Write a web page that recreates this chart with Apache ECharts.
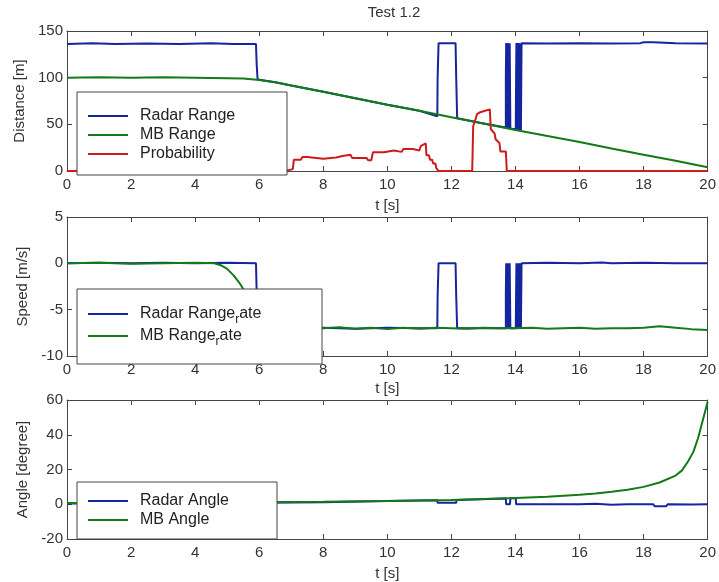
<!DOCTYPE html>
<html lang="en">
  <head>
    <meta charset="UTF-8" />
    <title>Test 1.2</title>
    <script src="https://cdn.jsdelivr.net/npm/echarts@6.0.0/dist/echarts.min.js"></script>
  </head>
  <body style="margin:0;background:#fff">
    <div id="main" style="width: 719px; height: 582px"></div>
    <script type="text/javascript">
      // [t, value] pairs
      let radarRange = [
        [0, 136], [0.8, 137], [1.5, 136], [2.5, 136.5], [3.5, 136], [4.5, 137], [5.2, 136], [5.9, 136],
        [5.92, 115], [5.95, 98], [6, 97.5], [6.5, 95], [7, 91.5], [8, 85], [9, 78], [10, 71], [11, 64.5],
        [11.56, 58.5], [11.57, 100], [11.6, 137], [12.13, 137], [12.15, 100], [12.18, 56.5],
        [13, 51], [13.7, 46.5], [13.7, 100], [13.71, 137], [13.74, 46], [13.76, 137], [13.8, 46], [13.82, 137], [13.84, 45.5],
        [14.01, 44.5], [14.02, 100], [14.03, 137], [14.06, 44.3], [14.09, 137], [14.12, 44], [14.15, 137], [14.17, 44], [14.19, 137],
        [15, 136.5], [16, 137], [17, 136.5], [17.9, 137], [18, 138], [18.3, 138], [18.35, 136.5], [19, 137], [20, 136.5]
      ];
      let mbRange = [
        [0, 100], [1, 100.5], [2, 100], [3, 100.5], [4, 100], [5, 99.5], [5.5, 99], [6, 97.5], [6.5, 95],
        [7, 91.5], [8, 85], [9, 78], [10, 71], [11, 64.5], [12, 57.5], [13, 51], [14, 44], [15, 37.5],
        [16, 31], [17, 24], [18, 17.5], [19, 11], [20, 4]
      ];
      let probability = [
        [0, 0], [6.8, 0], [6.85, 2], [7.05, 2], [7.08, 12], [7.3, 12], [7.35, 15], [7.5, 15], [7.55, 13],
        [8.0, 13], [8.05, 14.5], [8.4, 14.5], [8.45, 16], [8.6, 16], [8.65, 17.5], [8.85, 17.5], [8.9, 14],
        [9.35, 14], [9.4, 11.5], [9.5, 11.5], [9.55, 20], [9.9, 20], [9.95, 22], [10.2, 22], [10.25, 20.5],
        [10.45, 20.5], [10.5, 23.5], [10.8, 23.5], [10.85, 22], [11.0, 22], [11.05, 27], [11.2, 29.5],
        [11.22, 17], [11.3, 17], [11.33, 12], [11.4, 12], [11.43, 8], [11.5, 8], [11.53, 3], [11.58, 3],
        [11.6, 0], [12.65, 0], [12.68, 48], [12.75, 55], [12.8, 61], [12.9, 63], [13.0, 64], [13.2, 66],
        [13.23, 45], [13.35, 40], [13.38, 34], [13.5, 30], [13.53, 21], [13.7, 21], [13.73, 0], [20, 0]
      ];

      let radarRate = [
        [0, 0], [1, 0.05], [2, 0], [3, 0.05], [4, 0], [5, 0.05], [5.9, 0], [5.92, -3], [5.95, -6.9],
        [7, -7.0], [8, -6.95], [9, -7.05], [10, -6.95], [11, -7.0], [11.56, -7.0], [11.57, -3.5], [11.6, 0],
        [12.13, 0], [12.15, -3.5], [12.18, -7.0], [13, -7.0], [13.7, -7.0], [13.7, -3.5], [13.71, 0],
        [13.74, -7], [13.76, 0], [13.8, -7], [13.82, 0], [13.84, -7], [14.01, -7], [14.02, -3.5], [14.03, 0],
        [14.06, -7], [14.09, 0], [14.12, -7], [14.15, 0], [14.17, -7], [14.19, 0], [15, 0.05], [16, 0],
        [16.7, 0.1], [17, 0], [18, 0.05], [19, 0], [20, 0]
      ];
      let mbRate = [
        [0, 0], [1, 0.05], [2, -0.05], [3, 0], [4, 0.05], [4.6, 0], [4.8, -0.2], [5.0, -0.6], [5.2, -1.3],
        [5.4, -2.2], [5.6, -3.3], [5.8, -4.5], [6.0, -5.6], [6.2, -6.5], [6.4, -6.9], [6.6, -7.0],
        [7, -7.05], [7.5, -6.95], [8, -7.0], [8.5, -6.9], [9, -7.05], [9.5, -6.95], [10, -7.1], [10.5, -6.95],
        [11, -7.05], [11.5, -6.95], [12, -7.0], [12.5, -7.05], [13, -6.95], [13.5, -7.0], [14, -7.0],
        [14.5, -6.95], [15, -7.05], [15.5, -7.0], [16, -6.95], [16.5, -7.05], [17, -7.0], [17.5, -7.0],
        [18, -6.95], [18.5, -6.8], [19, -6.95], [19.5, -7.1], [20, -7.2]
      ];

      let radarAngle = [
        [0, 0.5], [3, 0.6], [6, 0.8], [8, 1.2], [10, 1.8], [11.56, 2.3], [11.57, 0.8], [12.15, 0.8],
        [12.16, 2.5], [13.7, 3.3], [13.71, 0], [13.83, 0], [13.84, 3.4], [14.01, 3.5], [14.02, 0],
        [14.19, 0], [14.2, 0.3], [15, 0], [16, 0], [16.5, 0.3], [17, -0.3], [17.5, 0], [18.3, 0],
        [18.35, -1.2], [18.7, -1.2], [18.75, 0], [19.5, -0.2], [20, 0]
      ];
      let mbAngle = [
        [0, 0.7], [2, 0.8], [4, 1], [6, 1.2], [8, 1.5], [10, 1.9], [11, 2.2], [12, 2.5], [13, 3],
        [14, 3.6], [15, 4.3], [16, 5.4], [16.5, 6.2], [17, 7.2], [17.5, 8.4], [18, 10], [18.5, 12.5],
        [19, 16.5], [19.2, 19.5], [19.4, 25], [19.55, 30], [19.7, 38], [19.8, 45], [19.9, 52], [20, 59]
      ];

      let tTicks = { min: 0, max: 20, interval: 2 };
      let yRanges = [
        { min: 0, max: 150, interval: 50, name: "Distance [m]", gap: 36 },
        { min: -10, max: 5, interval: 5, name: "Speed [m/s]", gap: 33 },
        { min: -20, max: 60, interval: 20, name: "Angle [degree]", gap: 36 },
      ];

      const blue = "#1525a0";
      const green = "#127a16";
      const red = "#cc1b1b";
      const font = "Liberation Sans, Arial, sans-serif";
      const axisColor = "#444";

      let grids = [
        { left: 67, right: 6, top: 31, height: 140 },
        { left: 67, right: 6, top: 217, height: 139 },
        { left: 67, right: 6, top: 400, height: 140 },
      ];

      let axisLine = { show: true, onZero: false, lineStyle: { color: axisColor } };
      let axisTick = { show: true, inside: true, length: 5, lineStyle: { color: axisColor } };

      let xAxes = [];
      let yAxes = [];
      grids.forEach((g, i) => {
        xAxes.push({
          type: "value", gridIndex: i, position: "bottom", ...tTicks,
          name: "t [s]", nameLocation: "middle", nameGap: i == 1 ? 25 : 27,
          nameTextStyle: { fontFamily: font, fontSize: 15, color: "#333" },
          axisLine: axisLine, axisTick: axisTick,
          axisLabel: { fontFamily: font, fontSize: 15, color: "#333", margin: 6 },
          splitLine: { show: false },
        });
        xAxes.push({
          type: "value", gridIndex: i, position: "top", ...tTicks,
          axisLine: axisLine, axisTick: axisTick,
          axisLabel: { show: false },
          splitLine: { show: false },
        });
        let r = yRanges[i];
        yAxes.push({
          type: "value", gridIndex: i, position: "left",
          min: r.min, max: r.max, interval: r.interval,
          name: r.name, nameLocation: "middle", nameGap: r.gap,
          nameTextStyle: { fontFamily: font, fontSize: 15, color: "#333" },
          axisLine: axisLine, axisTick: axisTick,
          axisLabel: { fontFamily: font, fontSize: 15, color: "#333", margin: 4 },
          splitLine: { show: false },
        });
        yAxes.push({
          type: "value", gridIndex: i, position: "right",
          min: r.min, max: r.max, interval: r.interval,
          axisLine: axisLine, axisTick: axisTick,
          axisLabel: { show: false },
          splitLine: { show: false },
        });
      });

      function line(name, data, color, i) {
        return {
          name: name, type: "line", data: data,
          xAxisIndex: i * 2, yAxisIndex: i * 2,
          symbol: "none", animation: false,
          lineStyle: { color: color, width: 2 },
          itemStyle: { color: color },
        };
      }

      let legendText = {
        fontFamily: font, fontSize: 16, color: "#222", lineHeight: 18,
        padding: [0, 0, 0, 7],
        rich: {
          sub: { fontFamily: font, fontSize: 12, color: "#222", padding: [12, 0, 0, 0] },
        },
      };
      function legend(names, top) {
        return {
          data: names, left: 83, top: top, orient: "vertical", z: 20,
          icon: "rect", itemWidth: 40, itemHeight: 2, itemGap: 1,
          textStyle: legendText,
          formatter: (n) => n.replace("_r", "{sub|r}"),
          selectedMode: false,
        };
      }

      let myChart = echarts.init(document.getElementById("main"));
      myChart.setOption({
        backgroundColor: "#fff",
        title: {
          text: "Test 1.2", left: 389, top: 0, textAlign: "center",
          textStyle: { fontFamily: font, fontSize: 15, fontWeight: "normal", color: "#333" },
        },
        grid: grids,
        xAxis: xAxes,
        yAxis: yAxes,
        legend: [
          legend(["Radar Range", "MB Range", "Probability"], 102),
          legend(["Radar Range_rate", "MB Range_rate"], 300),
          legend(["Radar Angle", "MB Angle"], 487),
        ],
        graphic: [
          { type: "rect", z: 10, shape: { x: 77, y: 92, width: 210, height: 83 },
            style: { fill: "#fff", stroke: axisColor, lineWidth: 1 } },
          { type: "rect", z: 10, shape: { x: 77, y: 289, width: 245, height: 75 },
            style: { fill: "#fff", stroke: axisColor, lineWidth: 1 } },
          { type: "rect", z: 10, shape: { x: 77, y: 482, width: 200, height: 57 },
            style: { fill: "#fff", stroke: axisColor, lineWidth: 1 } },
        ],
        series: [
          line("Radar Range", radarRange, blue, 0),
          line("MB Range", mbRange, green, 0),
          line("Probability", probability, red, 0),
          line("Radar Range_rate", radarRate, blue, 1),
          line("MB Range_rate", mbRate, green, 1),
          line("Radar Angle", radarAngle, blue, 2),
          line("MB Angle", mbAngle, green, 2),
        ],
      });
    </script>
  </body>
</html>
